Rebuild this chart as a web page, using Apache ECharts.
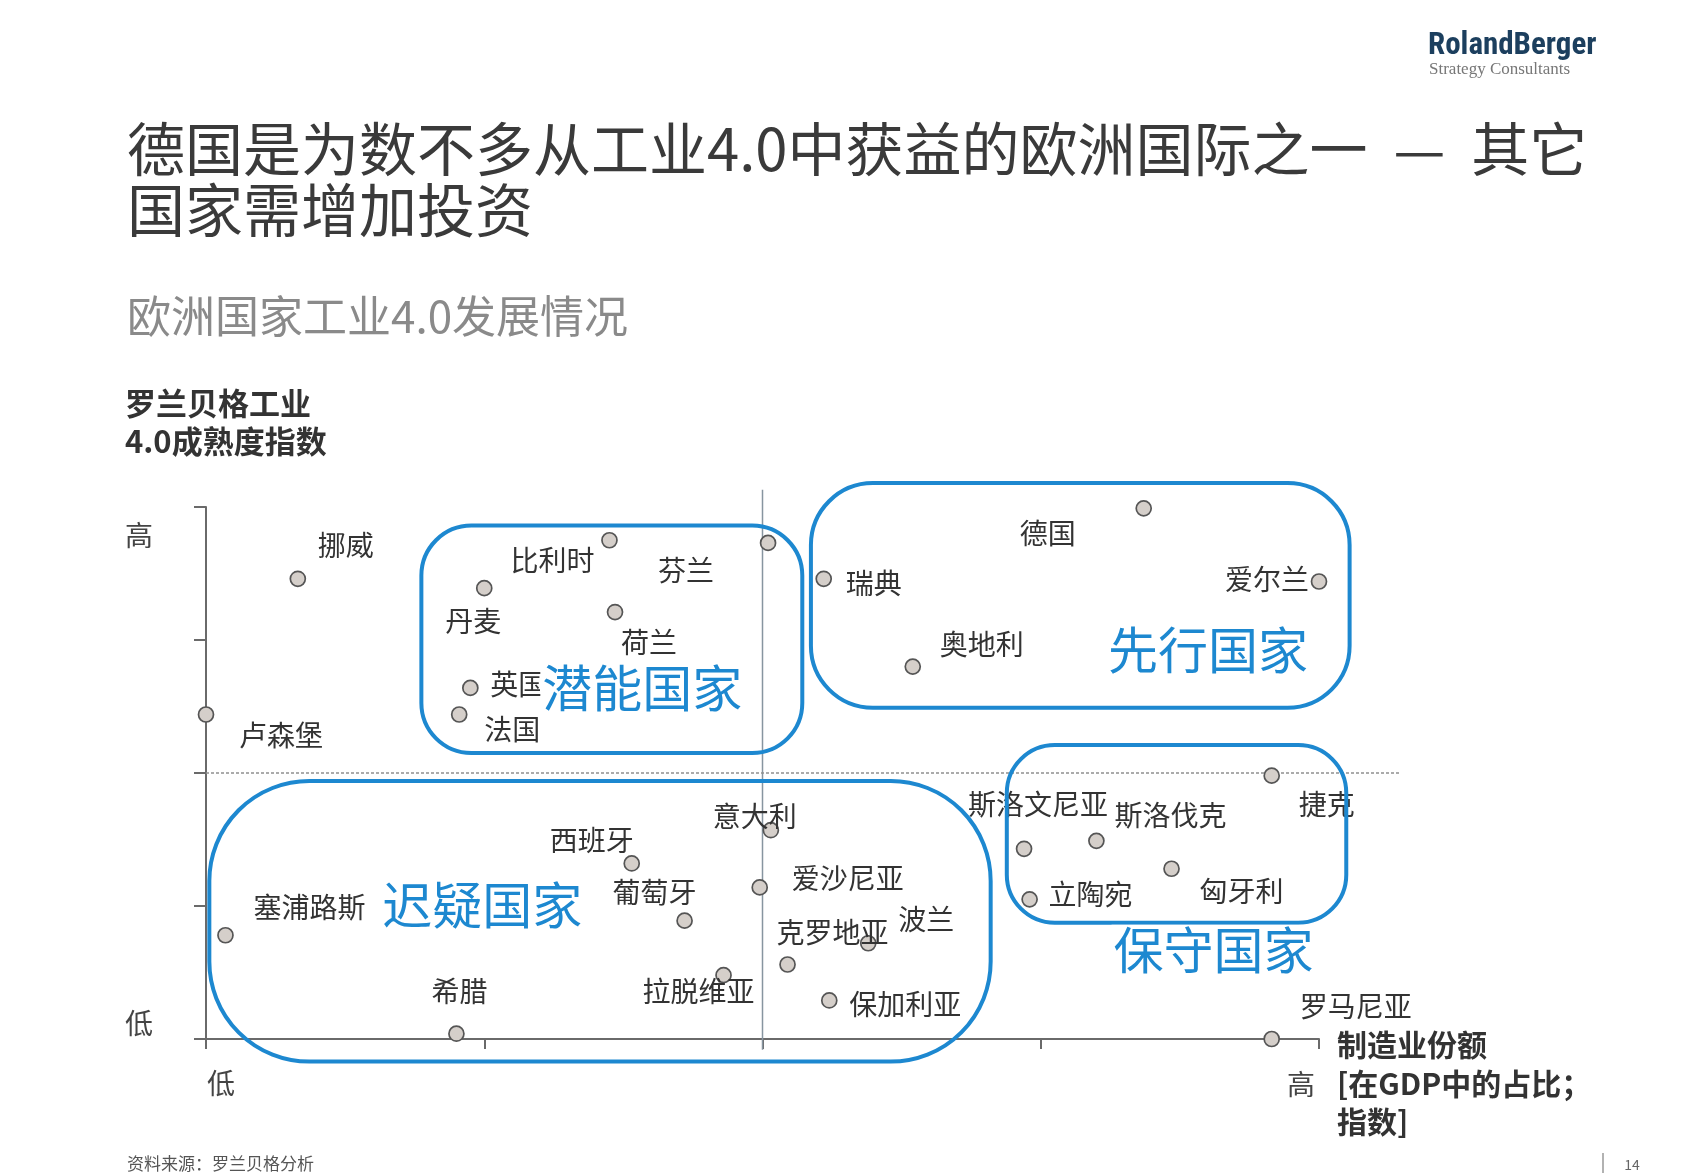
<!DOCTYPE html>
<html><head><meta charset="utf-8">
<script src="https://cdn.jsdelivr.net/npm/echarts@6/dist/echarts.min.js"></script>
<style>html,body{margin:0;padding:0;background:#fff}#c{width:1706px;height:1173px}</style>
</head><body><div id="c"></div>
<script>
// ---------- data ----------
const countries = ['挪威','卢森堡','丹麦','比利时','荷兰','英国','法国','芬兰','瑞典','德国','爱尔兰','奥地利','捷克','斯洛文尼亚','斯洛伐克','立陶宛','匈牙利','罗马尼亚','意大利','西班牙','葡萄牙','爱沙尼亚','克罗地亚','波兰','保加利亚','拉脱维亚','塞浦路斯','希腊'];
const manufShare = [0.33,0.00,1.00,1.45,1.47,0.95,0.91,2.02,2.22,3.37,4.00,2.54,3.83,2.94,3.20,2.96,3.47,3.83,2.03,1.53,1.72,1.99,2.09,2.38,2.24,1.86,0.07,0.90];
const maturity   = [3.46,2.44,3.39,3.75,3.21,2.64,2.44,3.73,3.46,3.99,3.44,2.80,1.98,1.43,1.49,1.05,1.28,0.00,1.57,1.32,0.89,1.14,0.56,0.72,0.29,0.48,0.78,0.04];
const groupNames = ['潜能国家','先行国家','保守国家','迟疑国家'];
const dividerX = [2, -0.08, 4.13];   // vertical divider: x, from y, to y
const dividerY = [2, 0, 4.29];       // horizontal divider: y, from x, to x
const axisLow = '低';
const axisHigh = '高';
const xAxisName = ['制造业份额','[在GDP中的占比；','指数]'];
const yAxisName = ['罗兰贝格工业','4.0成熟度指数'];
const titleLines = ['德国是为数不多从工业4.0中获益的欧洲国际之一  —  其它','国家需增加投资'];
const subtitle = '欧洲国家工业4.0发展情况';
const sourceNote = '资料来源：罗兰贝格分析';
const pageNo = '14';

// ---------- style / layout (not data) ----------
const FONT = "'Noto Sans CJK SC','Noto Sans',sans-serif";
const BLUE = '#1d88d0';
const labelOffset = {
  '挪威':[48,-33],'卢森堡':[75,21],'丹麦':[-11,33],'比利时':[-57,20],'荷兰':[34,30],'英国':[48,-4],
  '法国':[53,15],'芬兰':[-82,27],'瑞典':[50,5],'德国':[-96,25],'爱尔兰':[-52,-2],'奥地利':[69,-22],
  '捷克':[55,29],'斯洛文尼亚':[14,-44],'斯洛伐克':[74,-25],'立陶宛':[61,-5],'匈牙利':[70,23],
  '罗马尼亚':[84,-33],'意大利':[-16,-14],'西班牙':[-40,-23],'葡萄牙':[-30,-28],'爱沙尼亚':[88,-9],
  '克罗地亚':[45,-32],'波兰':[58,-24],'保加利亚':[76,4],'拉脱维亚':[-25,16],'塞浦路斯':[84,-28],'希腊':[3,-42]
};
// group boxes in data units: [xMin, yMax, xMax, yMin], corner radius px, label centre in data units
const groupBoxes = [
  {box:[0.774,3.86,2.143,2.15], r:50, text:[1.568,2.642]},
  {box:[2.174,4.18,4.11,2.49], r:62, text:[3.601,2.928]},
  {box:[2.878,2.21,4.098,0.875], r:48, text:[3.621,0.671]},
  {box:[0.012,1.94,2.82,-0.17], r:100, text:[0.993,1.006]}
];

const chart = echarts.init(document.getElementById('c'), null, {renderer:'canvas'});

const scatterData = countries.map((n,i)=>({
  name:n, value:[manufShare[i], maturity[i]],
  label:{offset:labelOffset[n]||[0,0]}
}));

const axisStyle = {color:'#6a6a6a', width:2};
const option = {
  backgroundColor:'#fff',
  animation:false,
  grid:{left:206, top:507, width:1113, height:532, containLabel:false},
  xAxis:{type:'value', min:0, max:4, interval:1,
    axisLine:{show:true, onZero:false, lineStyle:axisStyle},
    axisTick:{show:true, length:10, lineStyle:axisStyle},
    axisLabel:{show:false}, splitLine:{show:false}},
  yAxis:{type:'value', min:0, max:4, interval:1,
    axisLine:{show:true, onZero:false, lineStyle:axisStyle},
    axisTick:{show:true, length:12, lineStyle:axisStyle},
    axisLabel:{show:false}, splitLine:{show:false}},
  series:[
    {type:'scatter', data:scatterData, symbol:'circle', symbolSize:15, clip:false, z:3,
     itemStyle:{color:'#d5cfca', borderColor:'#555', borderWidth:1.7, opacity:1},
     label:{show:true, position:'inside', formatter:'{b}', color:'#333', fontSize:28,
       fontFamily:FONT, align:'center', verticalAlign:'middle'}}
  ]
};
chart.setOption(option);

const px = p => chart.convertToPixel({gridIndex:0}, p);
const g = [];
// dividers
const v1 = px([dividerX[0], dividerX[1]]), v2 = px([dividerX[0], dividerX[2]]);
g.push({type:'line', z:1, silent:true, shape:{x1:v1[0], y1:v1[1], x2:v2[0], y2:v2[1]},
  style:{stroke:'#8795a0', lineWidth:1.5}});
const h1 = px([dividerY[1], dividerY[0]]), h2 = px([dividerY[2], dividerY[0]]);
g.push({type:'line', z:1, silent:true, shape:{x1:h1[0], y1:h1[1], x2:h2[0], y2:h2[1]},
  style:{stroke:'#909090', lineWidth:1.3, lineDash:[3,2]}});
groupBoxes.forEach((gb,i)=>{
  const a = px([gb.box[0], gb.box[1]]), b = px([gb.box[2], gb.box[3]]);
  g.push({type:'rect', z:50, silent:true,
    shape:{x:a[0], y:a[1], width:b[0]-a[0], height:b[1]-a[1], r:gb.r},
    style:{fill:'none', stroke:BLUE, lineWidth:4}});
  const t = px(gb.text);
  g.push({type:'text', z:60, silent:true, x:t[0], y:t[1],
    style:{text:groupNames[i], fill:BLUE, font:'50px '+FONT, textAlign:'center', textVerticalAlign:'middle',
      backgroundColor:'#fff', padding:[0,2]}});
});
const txt = (x,y,text,font,fill,align,extra)=>Object.assign({type:'text', z:70, silent:true, x:x, y:y,
  style:Object.assign({text:text, font:font, fill:fill, textAlign:align||'left', textVerticalAlign:'middle'}, extra||{})});
// axis end labels
const y4 = px([0,4]), y0 = px([0,0]), x4 = px([4,0]);
g.push(txt(139, y4[1]+28, axisHigh, '28px '+FONT, '#444', 'center'));
g.push(txt(139, y0[1]-16, axisLow, '28px '+FONT, '#444', 'center'));
g.push(txt(y0[0]+15, y0[1]+44, axisLow, '28px '+FONT, '#444', 'center'));
g.push(txt(x4[0]-18, y0[1]+45, axisHigh, '28px '+FONT, '#444', 'center'));
// axis names
g.push(txt(x4[0]+18, y0[1]+6, xAxisName[0], 'bold 30px '+FONT, '#333'));
g.push(txt(x4[0]+18, y0[1]+45, xAxisName[1], 'bold 30px '+FONT, '#333'));
g.push(txt(x4[0]+18, y0[1]+83, xAxisName[2], 'bold 30px '+FONT, '#333'));
g.push(txt(125, 403, yAxisName[0], 'bold 31px '+FONT, '#333'));
g.push(txt(125, 441, yAxisName[1], 'bold 31px '+FONT, '#333'));
// titles
g.push(txt(127, 149, titleLines[0], '58px '+FONT, '#3a3a3a'));
g.push(txt(127, 210, titleLines[1], '58px '+FONT, '#3a3a3a'));
g.push(txt(127, 316, subtitle, '44px '+FONT, '#8a8a8a'));
// logo
g.push(txt(1428, 46, 'RolandBerger', 'bold 31px "Liberation Sans Narrow","Roboto Condensed",Roboto,sans-serif', '#1c3f5e'));
g.push(txt(1429, 70, 'Strategy Consultants', '17px "Liberation Serif",serif', '#777'));
// footer
g.push(txt(127, 1164, sourceNote, '17px '+FONT, '#555'));
g.push({type:'line', z:70, silent:true, shape:{x1:1603, y1:1153, x2:1603, y2:1173}, style:{stroke:'#999', lineWidth:1.5}});
g.push(txt(1632, 1165, pageNo, '14px '+FONT, '#666', 'center'));
chart.setOption({graphic:g});
</script></body></html>
